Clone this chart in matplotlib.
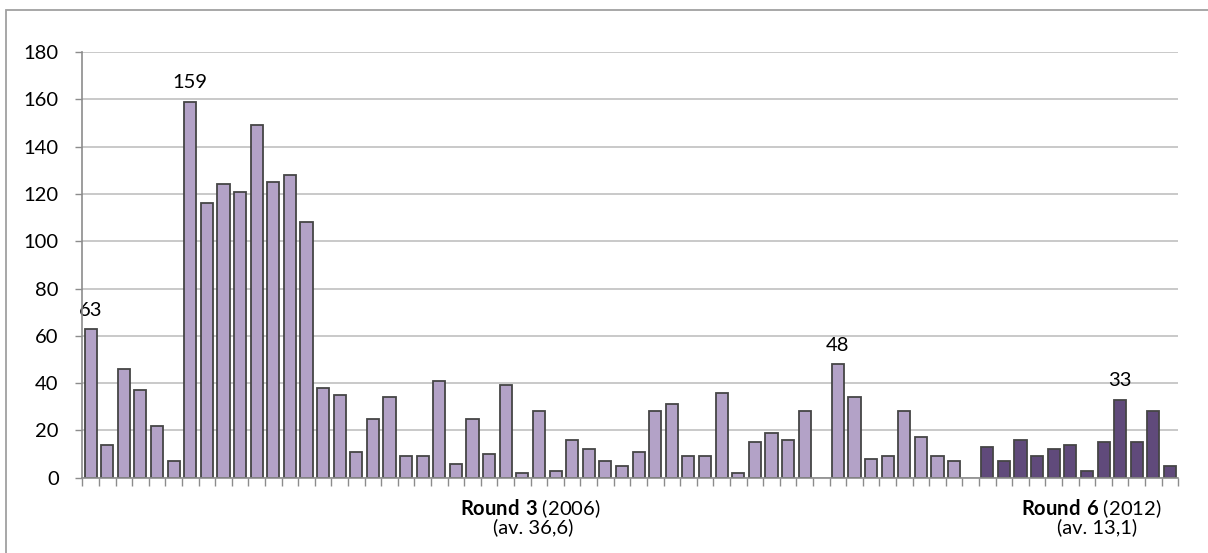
import matplotlib
matplotlib.use("Agg")
import matplotlib.pyplot as plt
import numpy as np
from matplotlib.patches import Rectangle

plt.rcParams['font.family'] = ['Lato', 'DejaVu Sans']
plt.rcParams['mathtext.fontset'] = 'custom'
plt.rcParams['mathtext.rm'] = 'Lato'
plt.rcParams['mathtext.bf'] = 'Lato:bold'

# Round 3 values (None = empty category)
round3_values = [63, 14, 46, 37, 22, 7, 159, 116, 124, 121, 149, 125, 128, 108,
                 38, 35, 11, 25, 34, 9, 9, 41, 6, 25, 10, 39, 2, 28, 3, 16, 12,
                 7, 5, 11, 28, 31, 9, 9, 36, 2, 15, 19, 16, 28, None, 48, 34, 8,
                 9, 28, 17, 9, 7, None]
round6_values = [13, 7, 16, 9, 12, 14, 3, 15, 33, 15, 28, 5]
labelled_values = {0: "63", 6: "159", 45: "48", 62: "33"}
yticks = [0, 20, 40, 60, 80, 100, 120, 140, 160, 180]
group_line1 = [r"$\mathbf{Round\ 3}$ (2006)", r"$\mathbf{Round\ 6}$ (2012)"]
group_line2 = ["(av. 36,6)", "(av. 13,1)"]

W, H = 1208, 553
fig = plt.figure(figsize=(W / 100, H / 100), dpi=100)
ax = fig.add_axes([82.3 / W, 1 - 477.7 / H, (1178.3 - 82.3) / W, (477.7 - 52) / H])

n3 = len(round3_values)
x3 = np.arange(n3)
x6 = np.arange(n3, n3 + len(round6_values))
v3 = np.array([np.nan if v is None else v for v in round3_values], dtype=float)
v6 = np.array(round6_values, dtype=float)

light = '#B3A2C7'
dark = '#604A7B'
edge = '#454545'
bw = 0.73
FS = 14.5
ax.bar(x3, v3, width=bw, color=light, edgecolor=edge, linewidth=1.3, zorder=3)
ax.bar(x6, v6, width=bw, color=dark, edgecolor=edge, linewidth=1.3, zorder=3)

allv = np.concatenate([v3, v6])
for i, txt in labelled_values.items():
    ax.annotate(txt, (i, allv[i]), xytext=(0, 9.5), textcoords='offset points',
                ha='center', va='baseline', fontsize=FS, color='black', zorder=4)

ntot = n3 + len(round6_values)
ax.set_xlim(-0.5, ntot - 0.5)
ax.set_ylim(0, 180)
ax.set_yticks(yticks)
ax.set_yticklabels([str(t) for t in yticks], fontsize=FS)
ax.set_xticks(np.arange(-0.5, ntot, 1.0))
ax.set_xticklabels([])
ax.tick_params(axis='y', direction='out', length=5, width=1, color='#8C8C8C', pad=12)
ax.tick_params(axis='x', direction='out', length=6, width=1, color='#8C8C8C')
ax.grid(axis='y', color='#C0C0C0', linewidth=1.2, zorder=0)
ax.set_axisbelow(True)
for s in ['top', 'right']:
    ax.spines[s].set_visible(False)
for s in ['left', 'bottom']:
    ax.spines[s].set_color('#8C8C8C')
    ax.spines[s].set_linewidth(1.2)
    ax.spines[s].set_zorder(5)

line1_px = [530, 1091]
line2_px = [533, 1097]
for k in range(2):
    fig.text(line1_px[k] / W, 1 - 509 / H, group_line1[k], ha='center', va='center', fontsize=FS)
    fig.text(line2_px[k] / W, 1 - 527 / H, group_line2[k], ha='center', va='center', fontsize=FS)

fig.patches.append(Rectangle((6 / W, -0.1), 1.2, 1 - 10 / H + 0.1, transform=fig.transFigure,
                             fill=False, edgecolor='#A0A0A0', linewidth=1.3))

fig.savefig('out.png', dpi=100)
